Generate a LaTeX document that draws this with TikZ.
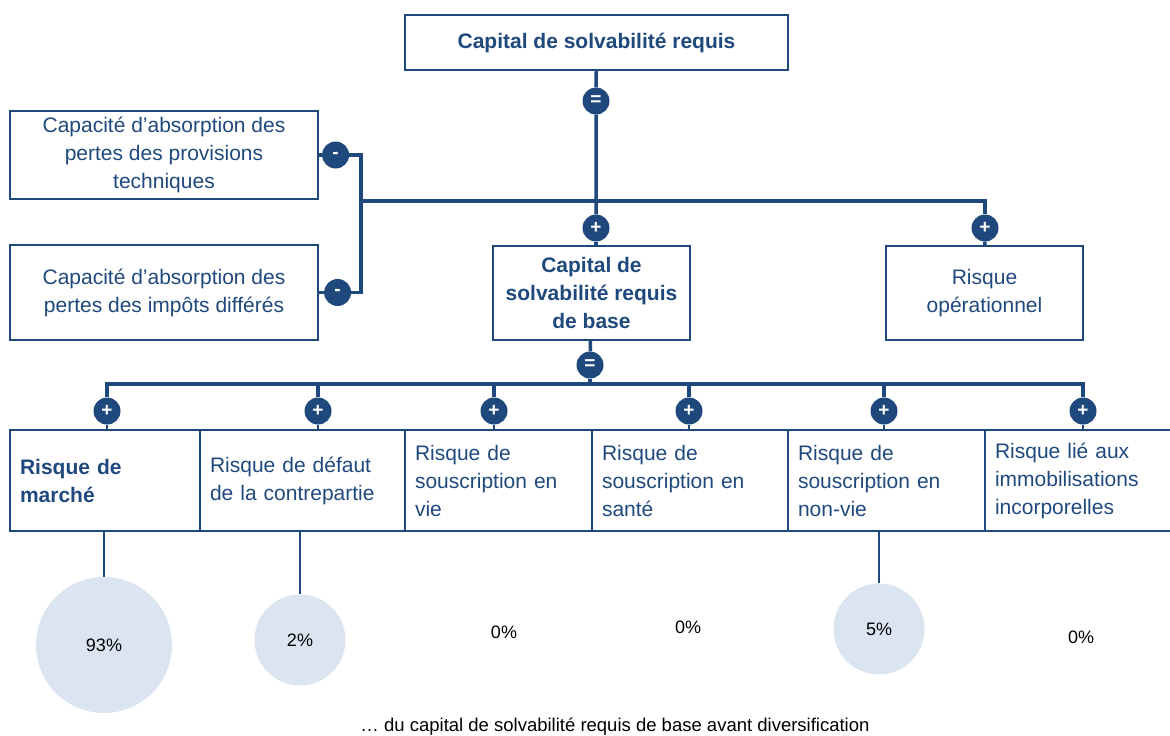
\documentclass[tikz,border=0pt]{standalone}
\usepackage{fontspec}
\setmainfont{Liberation Sans}
\usetikzlibrary{positioning}
\definecolor{navy}{RGB}{31,73,125}
\definecolor{bubble}{RGB}{219,229,241}

\begin{document}
\begin{tikzpicture}[x=1pt, y=-1pt,
  box/.style={rectangle, draw=navy, line width=1.8pt, text=navy, align=center, font=\fontsize{21}{28}\selectfont},
  boldbox/.style={box, font=\fontsize{21}{28}\selectfont\bfseries},
  op/.style={circle, fill=navy, text=white, minimum size=27pt, inner sep=0pt, font=\fontsize{19}{19}\selectfont\bfseries},
  cell/.style={rectangle, draw=navy, line width=2pt, text=navy, align=left, anchor=north west, outer sep=0pt, inner xsep=10pt, minimum height=101pt, font=\fontsize{21}{28}\selectfont},
  bub/.style={circle, fill=bubble, inner sep=0pt, font=\fontsize{18}{18}\selectfont},
  pct/.style={font=\fontsize{18}{18}\selectfont},
  link/.style={draw=navy, line width=3.5pt},
  stub/.style={draw=navy, line width=2pt}
]
  \useasboundingbox (0,0) rectangle (1170,736);

  % top part
  \node[boldbox, minimum width=383pt, minimum height=55pt] (csr) at (596.5,42.5) {Capital de solvabilité requis};
  \node[op] (eq1) at (596,101) {=};
  \node[op] (plBase) at (596,228) {+};
  \node[op] (plOp) at (985,228) {+};
  \node[boldbox, minimum width=197pt, minimum height=94pt] (base) at (591.5,293) {Capital de\\solvabilité requis\\de base};
  \node[box, minimum width=197pt, minimum height=94pt] (opr) at (984.5,293) {Risque\\opérationnel};
  \node[box, minimum width=308pt, minimum height=88pt] (tp) at (164,155) {Capacité d’absorption des\\pertes des provisions\\techniques};
  \node[box, minimum width=308pt, minimum height=95pt] (dt) at (164,292.5) {Capacité d’absorption des\\pertes des impôts différés};
  \node[op, right=3pt of tp] (mn1) {-};
  \node[op, right=5pt of dt] (mn2) {-};
  \coordinate (br) at (361,201);

  \draw[link] (csr) -- (eq1) -- (plBase);
  \draw[link] (plBase) -- (plBase |- base.north);
  \draw[link] (tp) -- (mn1) -- (mn1 -| br) -- (br |- mn2) -- (mn2) -- (dt);
  \draw[link] (br) -| (plOp);
  \draw[link] (plOp) -- (opr);

  % modules
  \node[op] (eq2) at (590,365) {=};
  \coordinate (bar) at (0,384);
  \node[cell, text width=170pt, font=\fontsize{21}{28}\selectfont\bfseries] (m1) at (10,430) {Risque de\\marché};
  \node[cell, text width=185pt, right=0pt of m1] (m2) {Risque de défaut\\de la contrepartie};
  \node[cell, text width=167pt, right=0pt of m2] (m3) {Risque de\\souscription en\\vie};
  \node[cell, text width=176pt, right=0pt of m3] (m4) {Risque de\\souscription en\\santé};
  \node[cell, text width=177pt, right=0pt of m4] (m5) {Risque de\\souscription en\\non-vie};
  \node[cell, text width=167pt, right=0pt of m5] (m6) {Risque lié aux\\immobilisations\\incorporelles};
  \foreach \x [count=\i] in {107,318,494,689,884,1083}
    \node[op] (p\i) at (\x,411) {+};

  \draw[link] (base) -- (eq2);
  \draw[link] (eq2) -- (eq2 |- bar);
  \draw[link] (p1) -- (p1 |- bar) -- (p6 |- bar) -- (p6);
  \foreach \i in {2,...,5}
    \draw[link] (p\i) -- (p\i |- bar);
  \foreach \i in {1,...,6}
    \draw[stub] (p\i) -- (p\i |- m1.north);

  % shares
  \node[bub, minimum size=136pt] (b1) at (104,645) {93\%};
  \node[bub, minimum size=91pt] (b2) at (300,640) {2\%};
  \node[pct] (b3) at (504,632) {0\%};
  \node[pct] (b4) at (688,627) {0\%};
  \node[bub, minimum size=91pt] (b5) at (879,629) {5\%};
  \node[pct] (b6) at (1081,637) {0\%};
  \draw[stub] (b1) -- (b1 |- m1.south);
  \draw[stub] (b2) -- (b2 |- m2.south);
  \draw[stub] (b5) -- (b5 |- m5.south);

  \node[pct, font=\fontsize{18.5}{18.5}\selectfont] (note) at (615,727) {… du capital de solvabilité requis de base avant diversification};
\end{tikzpicture}
\end{document}
